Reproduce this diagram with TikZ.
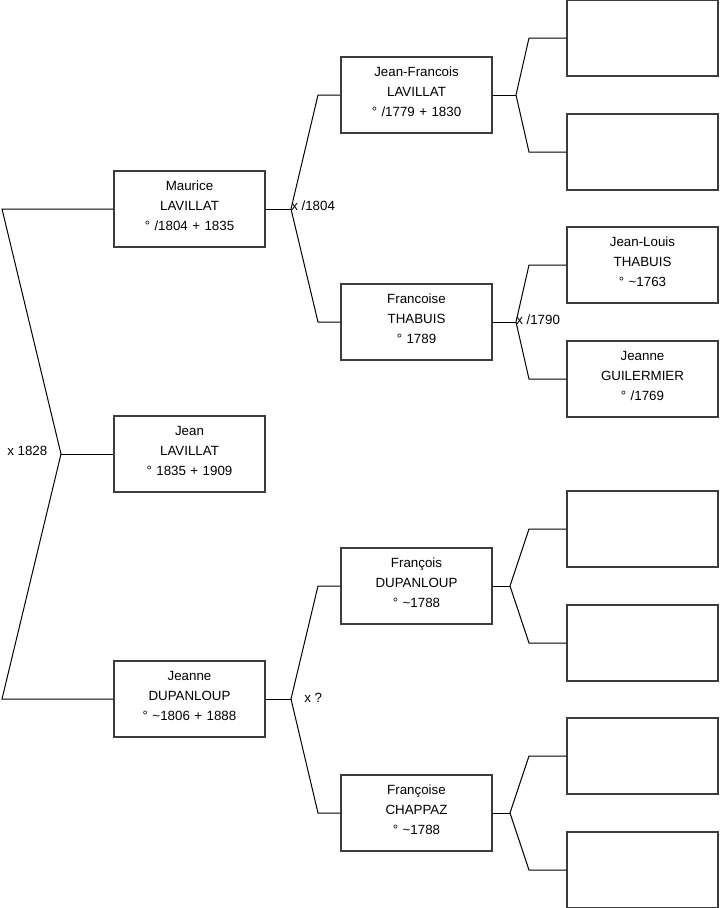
\documentclass[tikz,border=0pt]{standalone}
\usepackage{fontspec}
\setmainfont{Liberation Sans}
\usepackage{tikz}
\definecolor{ftBorder}{HTML}{3C3C3C}
\tikzset{
  person/.style={
    draw=ftBorder, line width=0.8pt, fill=white, minimum width=113.25pt, minimum height=57pt,
    text width=110pt, align=center, inner sep=0pt,
    font=\fontsize{10}{15}\selectfont,
    execute at end node={\rule[-5pt]{0pt}{5pt}}
  },
  link/.style={line width=0.75pt, black},
  union/.style={font=\fontsize{10}{12}\selectfont, inner sep=0pt}
}
\begin{document}
\begin{tikzpicture}[x=0.75pt, y=-0.75pt]
  \useasboundingbox (0,0) rectangle (719,908);
  % generation 1
  \node[person] (maurice) at (189.5,209) {Maurice\\LAVILLAT\\° /1804 + 1835};
  \node[person] (jean) at (189.5,454) {Jean\\LAVILLAT\\° 1835 + 1909};
  \node[person] (jeanne) at (189.5,699) {Jeanne\\DUPANLOUP\\° \textasciitilde1806 + 1888};
  % generation 2
  \node[person] (jfrancois) at (416.5,95) {Jean-Francois\\LAVILLAT\\° /1779 + 1830};
  \node[person] (fthabuis) at (416.5,322) {Francoise\\THABUIS\\° 1789};
  \node[person] (fdupanloup) at (416.5,586) {François\\DUPANLOUP\\° \textasciitilde1788};
  \node[person] (fchappaz) at (416.5,813) {Françoise\\CHAPPAZ\\° \textasciitilde1788};
  % generation 3
  \node[person] (p1) at (642.5,38) {};
  \node[person] (p2) at (642.5,152) {};
  \node[person] (jlouis) at (642.5,265) {Jean-Louis\\THABUIS\\° \textasciitilde1763};
  \node[person] (jguilermier) at (642.5,379) {Jeanne\\GUILERMIER\\° /1769};
  \node[person] (p5) at (642.5,529) {};
  \node[person] (p6) at (642.5,643) {};
  \node[person] (p7) at (642.5,756) {};
  \node[person] (p8) at (642.5,870) {};

  % unions
  \coordinate (u0) at (61,454);
  \coordinate (u0a) at (2,209);
  \coordinate (u0b) at (2,699);
  \draw[link] (maurice.west) -- (u0a) -- (u0) -- (u0b) -- (jeanne.west);
  \draw[link] (jean.west) -- (u0);
  \node[union, anchor=west] (m0) at (7,451) {x 1828};

  \coordinate (u1) at (291,209);
  \draw[link] (maurice.east) -- (u1);
  \draw[link] (jfrancois.west) -- (318,95) -- (u1) -- (318,322) -- (fthabuis.west);
  \node[union, anchor=west] (m1) at (291,206) {x /1804};

  \coordinate (u2) at (291,699);
  \draw[link] (jeanne.east) -- (u2);
  \draw[link] (fdupanloup.west) -- (318,586) -- (u2) -- (318,813) -- (fchappaz.west);
  \node[union, anchor=west] (m2) at (304,698) {x ?};

  \coordinate (u3) at (516,95);
  \draw[link] (jfrancois.east) -- (u3);
  \draw[link] (p1.west) -- (529,38) -- (u3) -- (529,152) -- (p2.west);

  \coordinate (u4) at (516,322);
  \draw[link] (fthabuis.east) -- (u4);
  \draw[link] (jlouis.west) -- (529,265) -- (u4) -- (529,379) -- (jguilermier.west);
  \node[union, anchor=west] (m4) at (516,320) {x /1790};

  \coordinate (u5) at (510,586);
  \draw[link] (fdupanloup.east) -- (u5);
  \draw[link] (p5.west) -- (529,529) -- (u5) -- (529,643) -- (p6.west);

  \coordinate (u6) at (510,813);
  \draw[link] (fchappaz.east) -- (u6);
  \draw[link] (p7.west) -- (529,756) -- (u6) -- (529,870) -- (p8.west);
\end{tikzpicture}
\end{document}
